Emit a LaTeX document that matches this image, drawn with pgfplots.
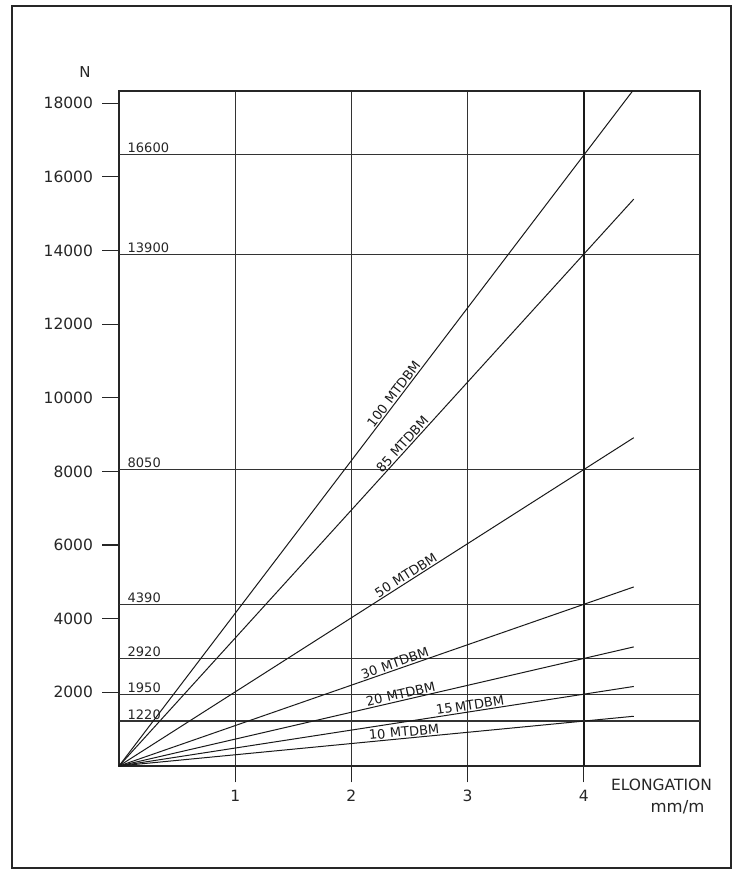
\documentclass[border=0pt]{standalone}
\usepackage{pgfplots}
\pgfplotsset{compat=1.18}
\usepackage{fontspec}
\setmainfont{DejaVu Sans}
\tikzset{
  hline/.style={line width=1.2pt, black!80},
  curve/.style={line width=1pt, black!90},
  lbl/.style={font=\fontsize{13}{13}\selectfont, sloped, anchor=south, inner sep=1.2pt, text=black!90},
  hlbl/.style={font=\fontsize{13}{13}\selectfont, anchor=south west, inner sep=1.5pt, xshift=7pt, text=black!85},
}
\begin{document}
\begin{tikzpicture}[x=1pt,y=1pt]
\useasboundingbox (0,0) rectangle (738,871);
\draw[line width=1.8pt, black!85] (12,3) rectangle (731,865);
\node[font=\fontsize{15}{15}\selectfont, text=black!85] at (85,799) {N};
\node[font=\fontsize{15.5}{15.5}\selectfont, text=black!85] at (661.5,86) {ELONGATION};
\node[font=\fontsize{16.5}{16.5}\selectfont, text=black!85] at (677.5,64) {mm/m};
\begin{axis}[
  at={(119pt,105pt)}, anchor=south west,
  scale only axis, width=581pt, height=675pt,
  xmin=0, xmax=5, ymin=0, ymax=18330,
  axis line style={line width=1.3pt, black!85},
  tick pos=left, tick align=outside,
  major tick length=16.5pt,
  every tick/.style={line width=1.1pt, black!85},
  xtick={1,2,3,4}, ytick={2000,4000,...,18000},
  scaled y ticks=false,
  xmajorgrids, major grid style={line width=1.2pt, black!80},
  /pgf/number format/assume math mode=true,
  /pgf/number format/1000 sep={},
  ticklabel style={font=\fontsize{15.5}{15.5}\selectfont, text=black!85},
  xticklabel style={yshift=-4pt},
  yticklabel style={xshift=-6pt},
  clip=false,
]
% thick line at x = 4
\addplot[line width=2pt, black!90] coordinates {(4,0) (4,18330)};
% horizontal reference lines
\addplot[hline] coordinates {(0,16600) (5,16600)};
\addplot[hline] coordinates {(0,13900) (5,13900)};
\addplot[hline] coordinates {(0,8050) (5,8050)};
\addplot[hline] coordinates {(0,4390) (5,4390)};
\addplot[hline] coordinates {(0,2920) (5,2920)};
\addplot[hline] coordinates {(0,1950) (5,1950)};
\addplot[hline] coordinates {(0,1220) (5,1220)};
\node[hlbl] at (axis cs:0,16600) {16600};
\node[hlbl] at (axis cs:0,13900) {13900};
\node[hlbl] at (axis cs:0,8050) {8050};
\node[hlbl] at (axis cs:0,4390) {4390};
\node[hlbl] at (axis cs:0,2920) {2920};
\node[hlbl] at (axis cs:0,1950) {1950};
\node[hlbl] at (axis cs:0,1220) {1220};
% load lines
\addplot[curve] coordinates {(0,0) (4.42,18330)} node[lbl, pos=0.545] {100\hspace{0.35em}MTDBM};
\addplot[curve] coordinates {(0,0) (4.43,15394)} node[lbl, pos=0.56] {85\hspace{0.35em}MTDBM};
\addplot[curve] coordinates {(0,0) (4.43,8915)} node[lbl, pos=0.564] {50\hspace{0.35em}MTDBM};
\addplot[curve] coordinates {(0,0) (4.43,4862)} node[lbl, pos=0.54] {30\hspace{0.35em}MTDBM};
\addplot[curve] coordinates {(0,0) (4.43,3234)} node[lbl, pos=0.55] {20\hspace{0.35em}MTDBM};
\addplot[curve] coordinates {(0,0) (4.43,2160)} node[lbl, pos=0.684] {15\hspace{0.2em}MTDBM};
\addplot[curve] coordinates {(0,0) (4.43,1351)} node[lbl, pos=0.555] {10\hspace{0.35em}MTDBM};
\end{axis}
\end{tikzpicture}
\end{document}
